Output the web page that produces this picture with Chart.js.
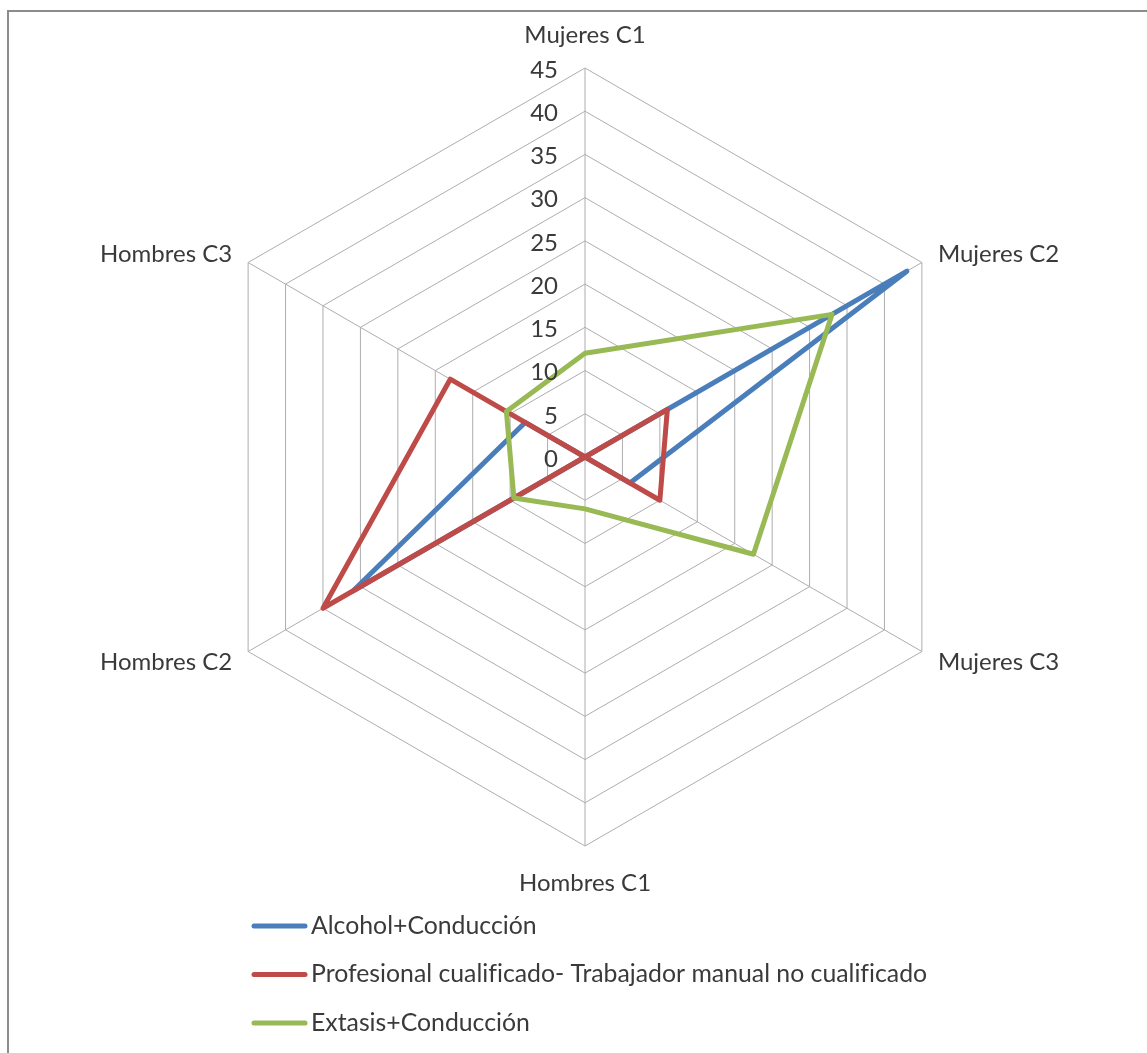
<!DOCTYPE html>
<html>
<head>
<meta charset="utf-8">
<script src="https://cdn.jsdelivr.net/npm/chart.js@4.4.1/dist/chart.umd.min.js"></script>
<style>
  html, body { margin: 0; padding: 0; background: #fff; overflow: hidden; }
  #frame { position: absolute; left: 7px; top: 10px; width: 1200px; height: 1100px;
           border: 2px solid #8c8c8c; box-sizing: border-box; }
  #c { position: absolute; left: 0; top: 0; }
</style>
</head>
<body>
<div id="frame"></div>
<canvas id="c" width="1147" height="1053"></canvas>
<script>
// Axes of the radar, clockwise from the top
const categories = ['Mujeres C1', 'Mujeres C2', 'Mujeres C3', 'Hombres C1', 'Hombres C2', 'Hombres C3'];

// Series values, one per axis
const alcoholConduccion = [0, 43, 6, 0, 31, 8];
const profesionalTrabajador = [0, 11, 10, 0, 35, 18];
const extasisConduccion = [12, 33, 22.5, 6, 9.5, 10.5];

// Radial tick labels
const radialTicks = [0, 5, 10, 15, 20, 25, 30, 35, 40, 45];

const seriesNames = [
  'Alcohol+Conducción',
  'Profesional cualificado- Trabajador manual no cualificado',
  'Extasis+Conducción'
];

const FONT_FAMILY = 'Lato, "Open Sans", sans-serif';
const AXIS_FONT = '24px ' + FONT_FAMILY;
const LEGEND_FONT = '24.8px ' + FONT_FAMILY;
const TEXT_COLOR = '#3a3a3a';
const GRID_COLOR = '#adadad';

// Draws the value ticks, the axis names and the legend in the office-chart style
const chartText = {
  id: 'chartText',
  afterDraw(chart) {
    const ctx = chart.ctx;
    const r = chart.scales.r;
    ctx.save();
    // plain glyphs, no "fi" ligature
    if ('textRendering' in ctx) ctx.textRendering = 'optimizeSpeed';
    ctx.font = AXIS_FONT;
    ctx.fillStyle = TEXT_COLOR;
    ctx.textBaseline = 'middle';

    // value labels beside the vertical axis
    ctx.textAlign = 'right';
    radialTicks.forEach(v => {
      const d = r.getDistanceFromCenterForValue(v);
      ctx.fillText(String(v), r.xCenter - 27, r.yCenter - d + 2);
    });

    // axis names just outside the outer hexagon
    categories.forEach((name, i) => {
      const p = r.getPointPosition(i, r.drawingArea);
      const dx = p.x - r.xCenter;
      const dy = p.y - r.yCenter;
      let x = p.x, y = p.y;
      if (Math.abs(dx) < 1) {
        ctx.textAlign = 'center';
        y += dy < 0 ? -33 : 37;
      } else {
        ctx.textAlign = dx > 0 ? 'left' : 'right';
        x += dx > 0 ? 16 : -16;
        y += dy < 0 ? -8 : 10.5;
      }
      ctx.fillText(name, x, y);
    });

    // legend: one entry per row, line sample then name
    ctx.font = LEGEND_FONT;
    const legendX = 254, legendY = 926, rowGap = 48.5, sampleLen = 51;
    chart.data.datasets.forEach((ds, i) => {
      const y = legendY + i * rowGap;
      ctx.strokeStyle = ds.borderColor;
      ctx.lineWidth = 5;
      ctx.lineCap = 'round';
      ctx.beginPath();
      ctx.moveTo(legendX, y);
      ctx.lineTo(legendX + sampleLen, y);
      ctx.stroke();
      ctx.textAlign = 'left';
      ctx.fillText(ds.label, legendX + sampleLen + 6, y);
    });
    ctx.restore();
  }
};

const seriesStyle = (color, order) => ({
  borderColor: color,
  backgroundColor: 'rgba(0,0,0,0)',
  borderWidth: 5,
  borderJoinStyle: 'round',
  borderCapStyle: 'round',
  pointRadius: 0,
  pointHoverRadius: 0,
  fill: false,
  tension: 0,
  order: order
});

new Chart(document.getElementById('c'), {
  type: 'radar',
  data: {
    labels: categories,
    datasets: [
      Object.assign({ label: seriesNames[0], data: alcoholConduccion }, seriesStyle('#4A7EBB', 3)),
      Object.assign({ label: seriesNames[1], data: profesionalTrabajador }, seriesStyle('#BE4B48', 2)),
      Object.assign({ label: seriesNames[2], data: extasisConduccion }, seriesStyle('#98B954', 1))
    ]
  },
  options: {
    responsive: false,
    animation: false,
    devicePixelRatio: 1,
    layout: { padding: { left: 196, right: 173, top: 68, bottom: 207 } },
    plugins: {
      legend: { display: false },
      title: { display: false },
      tooltip: { enabled: false }
    },
    scales: {
      r: {
        min: radialTicks[0],
        max: radialTicks[radialTicks.length - 1],
        startAngle: 0,
        ticks: { display: false, stepSize: radialTicks[1] - radialTicks[0] },
        grid: { color: GRID_COLOR, lineWidth: 1 },
        angleLines: { color: GRID_COLOR, lineWidth: 1 },
        pointLabels: { display: false }
      }
    }
  },
  plugins: [chartText]
});
</script>
</body>
</html>
